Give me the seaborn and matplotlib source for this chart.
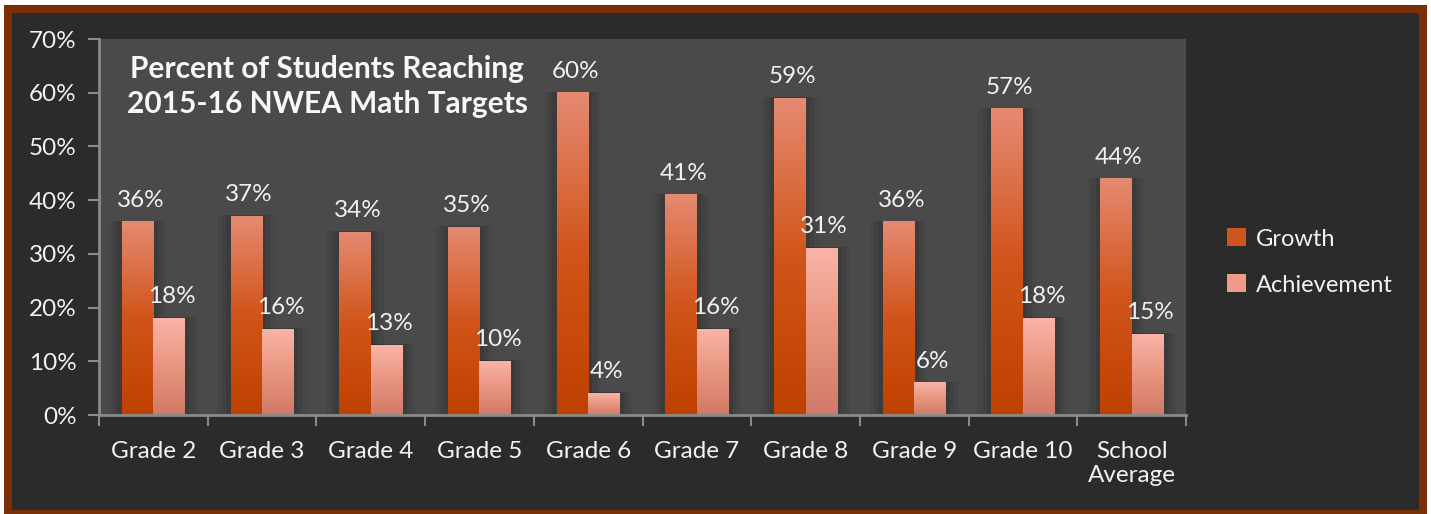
import numpy as np
import pandas as pd
import matplotlib
matplotlib.use("Agg")
import matplotlib.pyplot as plt
import seaborn as sns
from matplotlib.patches import Rectangle, Patch
from matplotlib.colors import LinearSegmentedColormap

categories = ["Grade 2", "Grade 3", "Grade 4", "Grade 5", "Grade 6", "Grade 7",
              "Grade 8", "Grade 9", "Grade 10", "School\nAverage"]
growth = [36, 37, 34, 35, 60, 41, 59, 36, 57, 44]
achievement = [18, 16, 13, 10, 4, 16, 31, 6, 18, 15]
series_names = ["Growth", "Achievement"]
yticks = [0, 10, 20, 30, 40, 50, 60, 70]
title = "Percent of Students Reaching\n2015-16 NWEA Math Targets"

sns.set_theme(style="dark")
plt.rcParams['font.family'] = ['Lato', 'DejaVu Sans']

df = pd.DataFrame({
    "cat": categories * 2,
    "val": growth + achievement,
    "series": [series_names[0]] * len(categories) + [series_names[1]] * len(categories),
})

W, H = 1431, 514
fig = plt.figure(figsize=(W / 100, H / 100), dpi=100)
fig.patch.set_facecolor("white")

# outer frame
fig.patches.append(Rectangle((4 / W, 0), (1427 - 4) / W, (514 - 5) / H,
                             transform=fig.transFigure, facecolor="#7b2f06",
                             edgecolor="none", zorder=-2))
fig.patches.append(Rectangle((12 / W, (514 - 510) / H), (1419 - 12) / W, (510 - 13) / H,
                             transform=fig.transFigure, facecolor="#2b2b2b",
                             edgecolor="none", zorder=-1))

ax = fig.add_axes([99 / W, (514 - 415) / H, (1186 - 99) / W, (415 - 39) / H])
ax.set_zorder(2)
ax.set_facecolor("#4a4a4a")

sns.barplot(data=df, x="cat", y="val", hue="series", ax=ax, width=0.58, gap=0,
            palette=["#d35a24", "#f0a090"], legend=False, edgecolor="none",
            saturation=1, zorder=3)

n = len(categories)

grad_growth = LinearSegmentedColormap.from_list("g", ["#bf4100", "#d1541a", "#e58a72"])
grad_ach = LinearSegmentedColormap.from_list("a", ["#cf7a68", "#e8957f", "#f9b4a6"])
grad = np.linspace(0, 1, 256).reshape(-1, 1)

patches = list(ax.patches)
for i, p in enumerate(patches):
    x, y0 = p.get_x(), p.get_y()
    w, h = p.get_width(), p.get_height()
    if h <= 0:
        continue
    # soft shadow
    for k, a in [(0.12, 0.05), (0.08, 0.07), (0.04, 0.09)]:
        ax.add_patch(Rectangle((x - k, 0), w + 2 * k, h + 0.2, facecolor="black",
                               alpha=a, edgecolor="none", zorder=1))
    cmap = grad_growth if i < n else grad_ach
    ax.imshow(grad, cmap=cmap, origin="lower", extent=[x, x + w, y0, y0 + h],
              aspect="auto", zorder=4, interpolation="bicubic")
    ax.annotate(f"{int(round(h))}%", (x + w / 2, h), xytext=(2, 8),
                textcoords="offset points", ha="center", va="bottom",
                color="#f2f2f2", fontsize=17.5, zorder=6)

ax.set_xlim(-0.5, n - 0.5)
ax.set_ylim(0, 70)

ax.set_yticks(yticks)
ax.set_yticklabels([f"{t}%" for t in yticks])
ax.set_xticks(range(n))
ax.set_xticklabels(categories)
ax.set_xticks(np.arange(-0.5, n, 1.0), minor=True)
ax.tick_params(axis="x", which="major", length=0, pad=19, labelsize=17.5, colors="#f2f2f2")
ax.tick_params(axis="x", which="minor", length=8, width=1.5, color="#8a8a8a", bottom=True)
ax.tick_params(axis="y", which="major", length=8, width=1.5, color="#8a8a8a", left=True,
               labelsize=17.5, labelcolor="#f2f2f2", pad=8)
for lbl in ax.get_xticklabels():
    lbl.set_va("top")
    lbl.set_linespacing(1.15)
ax.set_xlabel("")
ax.set_ylabel("")
ax.grid(False)
for s in ["top", "right"]:
    ax.spines[s].set_visible(False)
for s in ["left", "bottom"]:
    ax.spines[s].set_visible(True)
    ax.spines[s].set_color("#8a8a8a")
    ax.spines[s].set_linewidth(2)
    ax.spines[s].set_zorder(7)

ax.text(0.210, 0.957, title, transform=ax.transAxes, ha="center", va="top",
        fontsize=21.5, fontweight="bold", color="#f7f7f7", linespacing=1.3, zorder=8)

handles = [Patch(facecolor="#d05420", edgecolor="none"),
           Patch(facecolor="#ee9c88", edgecolor="none")]
leg = fig.legend(handles, series_names, loc="center left",
                 bbox_to_anchor=(1206 / W, (514 - 262) / H), frameon=False,
                 fontsize=17, labelcolor="#f2f2f2", handlelength=0.8, handleheight=0.8,
                 handletextpad=0.4, labelspacing=1.05)

fig.savefig("out.png", dpi=100, facecolor=fig.get_facecolor())
